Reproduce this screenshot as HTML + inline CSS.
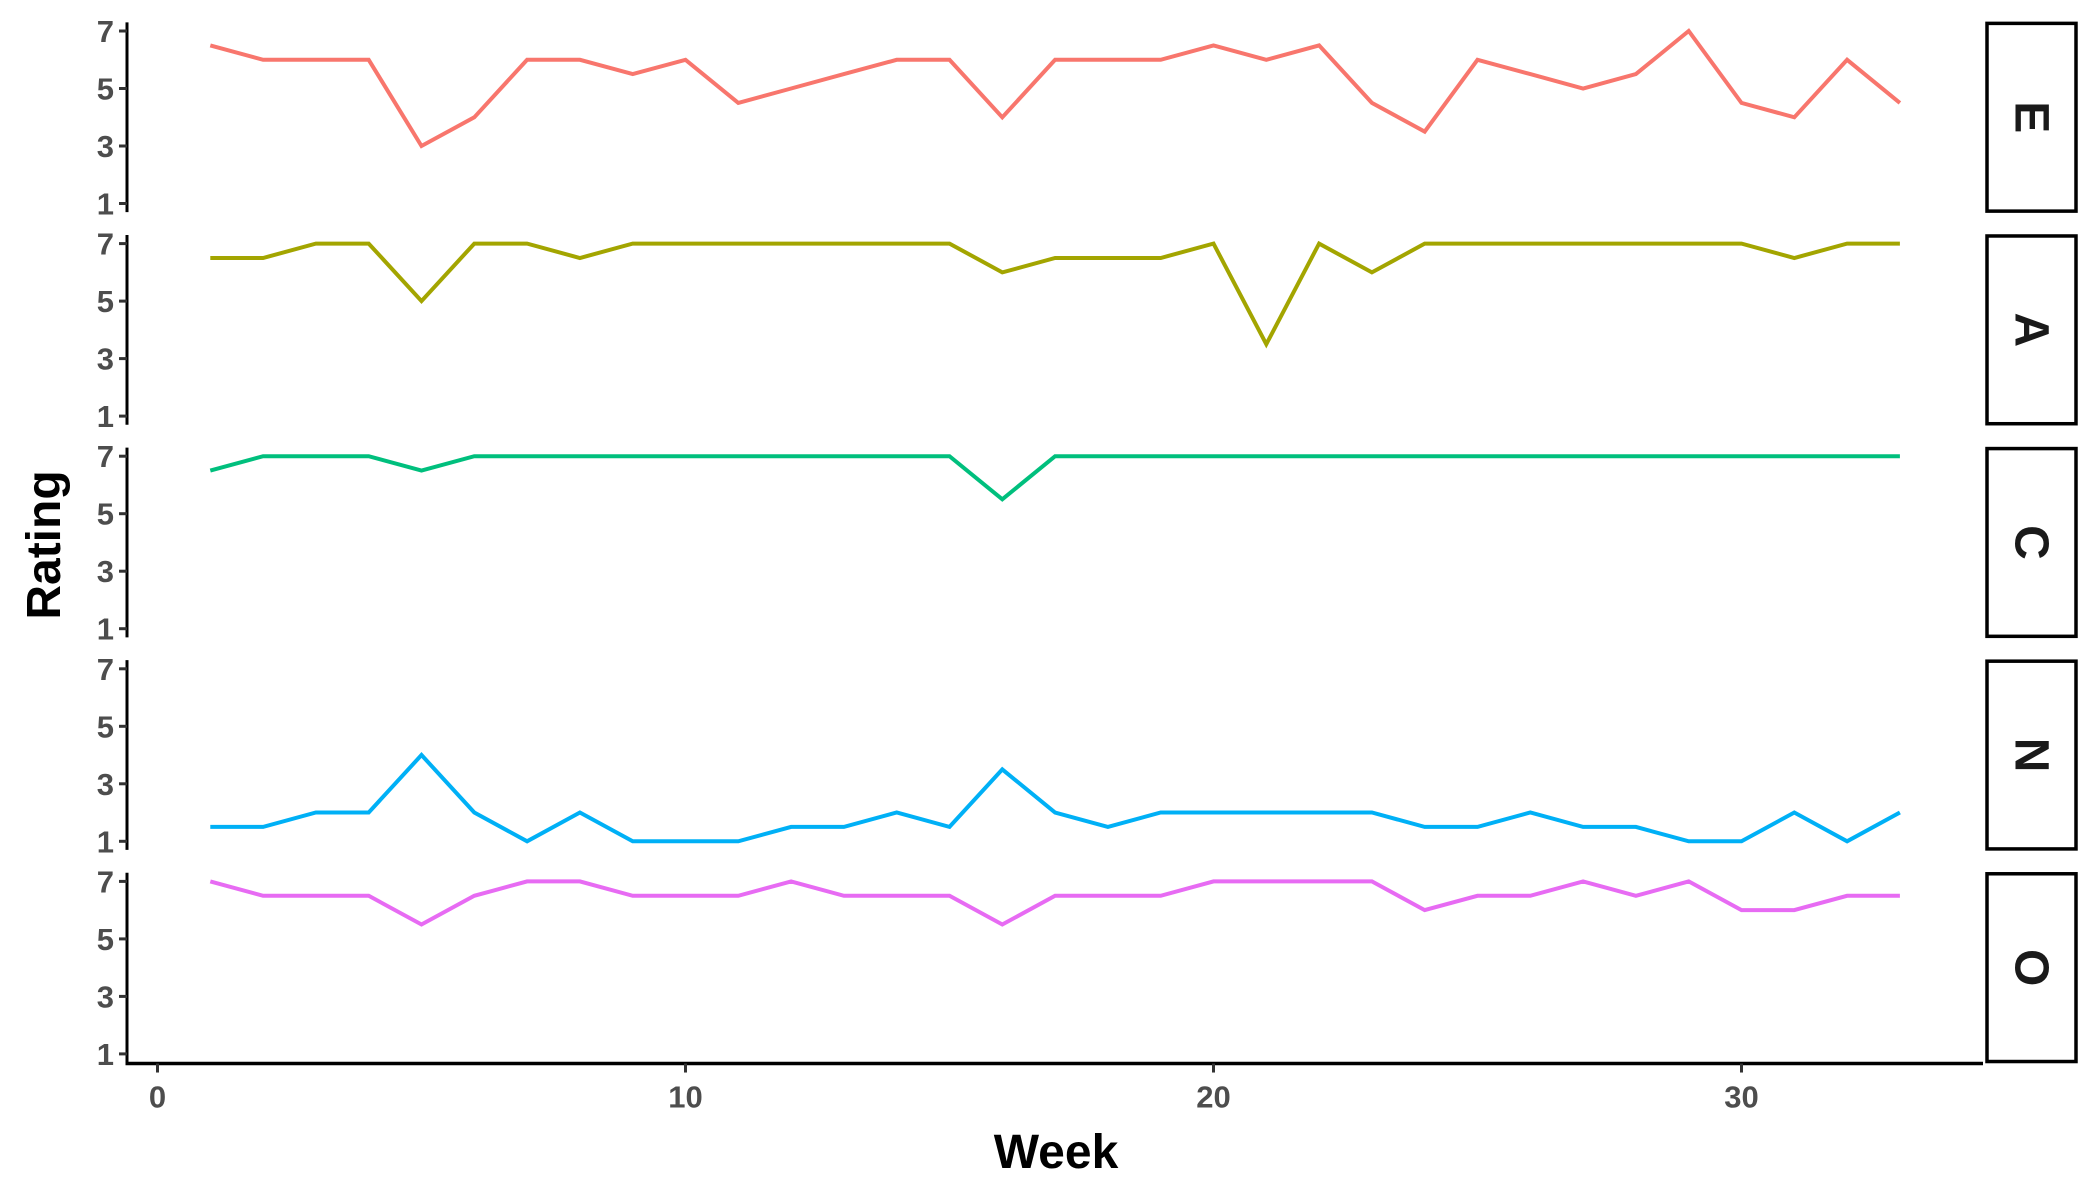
<!DOCTYPE html>
<html><head><meta charset="utf-8"><style>
html,body{margin:0;padding:0;background:#fff;}
svg{display:block;font-family:"Liberation Sans",sans-serif;}
</style></head><body>
<svg id="chart" width="2100" height="1200" viewBox="0 0 2100 1200" xmlns="http://www.w3.org/2000/svg">
<text x="0" y="0" transform="translate(60,545) rotate(-90)" text-anchor="middle" font-size="48" font-weight="bold" fill="#000">Rating</text>
<text x="1056" y="1168" text-anchor="middle" font-size="48" font-weight="bold" fill="#000">Week</text>
<g id="panels"></g>
</svg>
<script>
const facets = ["E","A","C","N","O"];
const colors = ["#F8766D","#A3A500","#00BF7D","#00B0F6","#E76BF3"];
const weeks = [1,2,3,4,5,6,7,8,9,10,11,12,13,14,15,16,17,18,19,20,21,22,23,24,25,26,27,28,29,30,31,32,33];
const seriesE = [6.5,6,6,6,3,4,6,6,5.5,6,4.5,5,5.5,6,6,4,6,6,6,6.5,6,6.5,4.5,3.5,6,5.5,5,5.5,7,4.5,4,6,4.5];
const seriesA = [6.5,6.5,7,7,5,7,7,6.5,7,7,7,7,7,7,7,6,6.5,6.5,6.5,7,3.5,7,6,7,7,7,7,7,7,7,6.5,7,7];
const seriesC = [6.5,7,7,7,6.5,7,7,7,7,7,7,7,7,7,7,5.5,7,7,7,7,7,7,7,7,7,7,7,7,7,7,7,7,7];
const seriesN = [1.5,1.5,2,2,4,2,1,2,1,1,1,1.5,1.5,2,1.5,3.5,2,1.5,2,2,2,2,2,1.5,1.5,2,1.5,1.5,1,1,2,1,2];
const seriesO = [7,6.5,6.5,6.5,5.5,6.5,7,7,6.5,6.5,6.5,7,6.5,6.5,6.5,5.5,6.5,6.5,6.5,7,7,7,7,6,6.5,6.5,7,6.5,7,6,6,6.5,6.5];
const yTicks = [1,3,5,7];
const xTicks = [0,10,20,30];

const allSeries = [seriesE,seriesA,seriesC,seriesN,seriesO];
const NS = "http://www.w3.org/2000/svg";
const g = document.getElementById("panels");
const x0 = 157.5, xUnit = 52.8;
const axisX = 127;
const panelStep = 212.6, top7 = 31, yUnit = 28.75;
function xs(w){ return x0 + w*xUnit; }
function ys(i,v){ return top7 + i*panelStep + (7-v)*yUnit; }
function mk(tag, attrs){ const e=document.createElementNS(NS,tag); for(const k in attrs) e.setAttribute(k,attrs[k]); return e; }

facets.forEach((f,i)=>{
  const pTop = ys(i,7.3), pBot = ys(i,0.7);
  const ax = mk("line",{x1:axisX,x2:axisX,y1:pTop,y2:pBot,stroke:"#000","stroke-width":3});
  
  
  g.appendChild(ax);
  yTicks.forEach(t=>{
    const tk = mk("line",{x1:axisX-8,x2:axisX,y1:ys(i,t),y2:ys(i,t),stroke:"#333","stroke-width":3});
    
    
    g.appendChild(tk);
    const lb = mk("text",{x:axisX-13,y:ys(i,t)+11,"text-anchor":"end","font-size":31,"font-weight":"bold",fill:"#4d4d4d"});
    lb.textContent = t;
    
    
    g.appendChild(lb);
  });
  const pts = weeks.map((w,j)=>xs(w).toFixed(1)+","+ys(i,allSeries[i][j]).toFixed(1)).join(" ");
  const pl = mk("polyline",{points:pts,fill:"none",stroke:colors[i],"stroke-width":4,"stroke-linejoin":"miter"});
  
  
  g.appendChild(pl);
  const sb = mk("rect",{x:1987,y:pTop+1,width:89,height:pBot-pTop-2,fill:"#fff",stroke:"#000","stroke-width":3.5});
  
  
  g.appendChild(sb);
  const cy = (pTop+pBot)/2;
  const st = mk("text",{x:0,y:0,transform:`translate(2031,${cy}) rotate(90)`,"text-anchor":"middle","dominant-baseline":"central","font-size":48,"font-weight":"bold",fill:"#1a1a1a"});
  st.textContent = f;
  
  
  g.appendChild(st);
});
const xAxisY = ys(4,0.7)+1;
const xa = mk("line",{x1:axisX-1.5,x2:1983,y1:xAxisY,y2:xAxisY,stroke:"#000","stroke-width":3.5});


g.appendChild(xa);
xTicks.forEach(t=>{
  const tk = mk("line",{x1:xs(t),x2:xs(t),y1:xAxisY,y2:xAxisY+9,stroke:"#333","stroke-width":3});
  
  
  g.appendChild(tk);
  const lb = mk("text",{x:xs(t),y:xAxisY+44,"text-anchor":"middle","font-size":31,"font-weight":"bold",fill:"#4d4d4d"});
  lb.textContent = t;
  
  
  g.appendChild(lb);
});
</script>
</body></html>
